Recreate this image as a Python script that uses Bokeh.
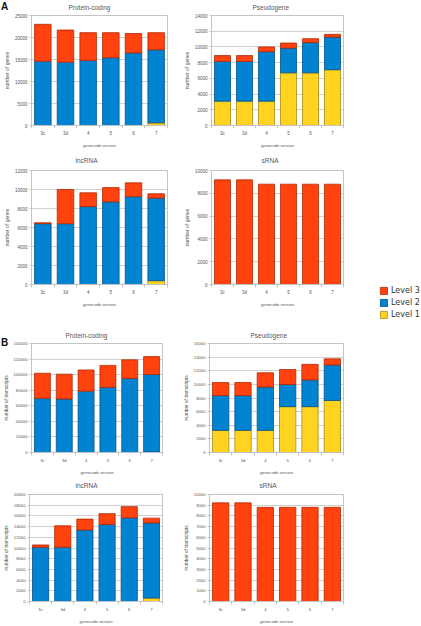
from bokeh.plotting import figure
from bokeh.layouts import column, row
from bokeh.models import (Range1d, FixedTicker, Legend, LegendItem, Div, Spacer,
                          ColumnDataSource, NumeralTickFormatter)
from bokeh.embed import file_html
from bokeh.resources import INLINE

# ---------------- data ----------------
versions = ["3c", "3d", "4", "5", "6", "7"]
level_names = ["Level 1", "Level 2", "Level 3"]
panel_labels = ["A", "B"]

# A: number of genes
genes_protein_l1 = [0, 0, 0, 0, 0, 600]
genes_protein_l2 = [14600, 14400, 14800, 15400, 16500, 16600]
genes_protein_l3 = [8400, 7300, 6300, 5700, 4400, 3900]

genes_pseudo_l1 = [3100, 3100, 3100, 6700, 6700, 7100]
genes_pseudo_l2 = [5050, 5050, 6300, 3150, 3850, 4150]
genes_pseudo_l3 = [750, 750, 600, 650, 500, 350]

genes_lnc_l1 = [0, 0, 0, 0, 0, 400]
genes_lnc_l2 = [6400, 6400, 8200, 8700, 9250, 8700]
genes_lnc_l3 = [100, 3600, 1450, 1500, 1450, 450]

genes_srna_l1 = [0, 0, 0, 0, 0, 0]
genes_srna_l2 = [0, 0, 0, 0, 0, 0]
genes_srna_l3 = [9180, 9180, 8800, 8800, 8800, 8800]

# B: number of transcripts
tx_protein_l1 = [0, 0, 0, 0, 0, 800]
tx_protein_l2 = [69600, 68700, 78800, 83800, 95100, 99400]
tx_protein_l3 = [32200, 31900, 27200, 28100, 23900, 23000]

tx_pseudo_l1 = [3250, 3250, 3250, 6730, 6730, 7640]
tx_pseudo_l2 = [5110, 5110, 6350, 3250, 3920, 5210]
tx_pseudo_l3 = [1910, 1910, 2100, 2200, 2290, 900]

tx_lnc_l1 = [0, 0, 0, 0, 0, 650]
tx_lnc_l2 = [10150, 10150, 13370, 14390, 15640, 14040]
tx_lnc_l3 = [420, 4000, 2030, 2030, 2090, 890]

tx_srna_l1 = [0, 0, 0, 0, 0, 0]
tx_srna_l2 = [0, 0, 0, 0, 0, 0]
tx_srna_l3 = [9220, 9220, 8800, 8800, 8800, 8800]

# ---------------- style ----------------
FILL = ["#ffd320", "#0084d1", "#ff420e"]
EDGE = ["#a88a10", "#00508a", "#b02a05"]
GRID = "#c4c4c4"
TXT = "#555555"
FONT = "Liberation Sans"


def panel(title, l1, l2, l3, ymax, ystep, ylabel, w, h, bl, br, bt, bb, toff,
          tick_fs="4.5px", lab_fs="5px"):
    n = len(versions)
    xs = list(range(n))
    src = ColumnDataSource(dict(x=xs, l1=l1, l2=l2, l3=l3))
    p = figure(width=w, height=h, output_backend="svg", toolbar_location=None,
               x_range=Range1d(-0.5, n - 0.5), y_range=Range1d(0, ymax),
               min_border_left=bl, min_border_right=br,
               min_border_top=bt, min_border_bottom=bb,
               outline_line_color=GRID, background_fill_color="white",
               border_fill_color="white", border_fill_alpha=0)
    rs = p.vbar_stack(["l1", "l2", "l3"], x="x", width=0.73, source=src,
                      fill_color=FILL, line_color=EDGE, line_width=0.8)

    p.title.text = title
    p.title.align = "left"
    p.title.vertical_align = "top"
    p.title.offset = toff
    p.title.standoff = max(bt - 10, 0)
    p.title.text_font = FONT
    p.title.text_font_size = "6.5px"
    p.title.text_font_style = "normal"
    p.title.text_color = TXT

    p.xgrid.visible = False
    p.ygrid.grid_line_color = GRID
    p.ygrid.grid_line_width = 0.8

    xa = p.xaxis[0]
    xa.ticker = FixedTicker(ticks=xs, minor_ticks=[i - 0.5 for i in range(n + 1)])
    xa.major_label_overrides = {i: v for i, v in enumerate(versions)}
    xa.axis_line_color = GRID
    xa.major_tick_line_color = None
    xa.major_tick_out = 3
    xa.minor_tick_line_color = GRID
    xa.minor_tick_in = 0
    xa.minor_tick_out = 3
    xa.major_label_standoff = 2
    xa.major_label_text_font = FONT
    xa.major_label_text_font_size = tick_fs
    xa.major_label_text_color = TXT
    xa.axis_label = "genecode version"
    xa.axis_label_text_font = FONT
    xa.axis_label_text_font_size = "4.2px"
    xa.axis_label_text_font_style = "normal"
    xa.axis_label_text_color = TXT
    xa.axis_label_standoff = 4

    ya = p.yaxis[0]
    ya.ticker = FixedTicker(ticks=list(range(0, ymax + 1, ystep)))
    ya.formatter = NumeralTickFormatter(format="0")
    ya.axis_line_color = GRID
    ya.major_tick_line_color = GRID
    ya.major_tick_in = 0
    ya.major_tick_out = 2
    ya.minor_tick_line_color = None
    ya.major_label_standoff = 2
    ya.major_label_text_font = FONT
    ya.major_label_text_font_size = tick_fs
    ya.major_label_text_color = TXT
    ya.axis_label = ylabel
    ya.axis_label_text_font = FONT
    ya.axis_label_text_font_size = lab_fs
    ya.axis_label_text_font_style = "normal"
    ya.axis_label_text_color = TXT
    ya.axis_label_standoff = 2
    return p, rs


LW, RW = 180, 241

# row 1 (A)
a1, _ = panel("Protein-coding", genes_protein_l1, genes_protein_l2, genes_protein_l3,
              25000, 5000, "number of genes", LW, 150, 31, 13, 15, 23, 37)
a2, _ = panel("Pseudogene", genes_pseudo_l1, genes_pseudo_l2, genes_pseudo_l3,
              14000, 2000, "number of genes", RW, 150, 24, 78, 15, 23, 41)

# row 2 (A) + legend
a3, _ = panel("lncRNA", genes_lnc_l1, genes_lnc_l2, genes_lnc_l3,
              12000, 2000, "number of genes", LW, 178, 31, 13, 20, 44, 44)
a4, _ = panel("sRNA", genes_srna_l1, genes_srna_l2, genes_srna_l3,
              10000, 2000, "number of genes", 170, 178, 24, 7, 20, 44, 50)

# small legend holder: key glyphs carry no drawable data
lf = figure(width=71, height=43, output_backend="svg", toolbar_location=None,
            x_axis_type=None, y_axis_type=None, x_range=Range1d(0, 1),
            y_range=Range1d(0, 1), min_border=0, outline_line_color=None,
            background_fill_alpha=0, border_fill_alpha=0)
nan = float("nan")
key = [lf.vbar(x=[nan], top=[nan], width=0.5, fill_color=FILL[i], line_color=EDGE[i],
               line_width=0.8) for i in range(3)]
legend = Legend(items=[LegendItem(label=level_names[i], renderers=[key[i]])
                       for i in (2, 1, 0)],
                location=(29, 9), orientation="vertical",
                glyph_width=9, glyph_height=9, label_height=10, spacing=2,
                label_standoff=3, padding=0, margin=0,
                label_text_font="DejaVu Sans", label_text_font_size="8px",
                label_text_color="#333333", border_line_color=None,
                background_fill_alpha=0)
lf.add_layout(legend, "center")
legend_box = column(Spacer(width=71, height=135), lf)

# row 3 (B)
b1, _ = panel("Protein-coding", tx_protein_l1, tx_protein_l2, tx_protein_l3,
              140000, 20000, "number of transcripts", LW, 149, 26, 18, 15, 23, 34,
              "4.2px", "4.8px")
b2, _ = panel("Pseudogene", tx_pseudo_l1, tx_pseudo_l2, tx_pseudo_l3,
              16000, 2000, "number of transcripts", RW, 149, 24, 78, 15, 23, 41,
              "4.2px", "4.8px")

# row 4 (B)
b3, _ = panel("lncRNA", tx_lnc_l1, tx_lnc_l2, tx_lnc_l3,
              20000, 2000, "number of transcripts", LW, 149, 24, 18, 17, 20, 46,
              "4.2px", "4.8px")
b4, _ = panel("sRNA", tx_srna_l1, tx_srna_l2, tx_srna_l3,
              10000, 1000, "number of transcripts", RW, 149, 24, 78, 17, 20, 50,
              "4.2px", "4.8px")

# panel letters "A" and "B" as an overlay over the page corner
letter_style = ("position:absolute;left:1px;font-family:'Liberation Sans',sans-serif;"
                "font-weight:bold;font-size:10px;line-height:10px;color:#111;")
overlay_html = (f'<div style="{letter_style}top:2px;">{panel_labels[0]}</div>'
                f'<div style="{letter_style}top:338px;">{panel_labels[1]}</div>')
overlay = Div(text=overlay_html, width=421, height=0, margin=(0, 0, 0, 0),
              styles={"position": "relative", "z-index": "10", "overflow": "visible"})

layout = column(overlay, row(a1, a2), row(a3, a4, legend_box), row(b1, b2), row(b3, b4))

open("out.html", "w").write(file_html(layout, INLINE))
